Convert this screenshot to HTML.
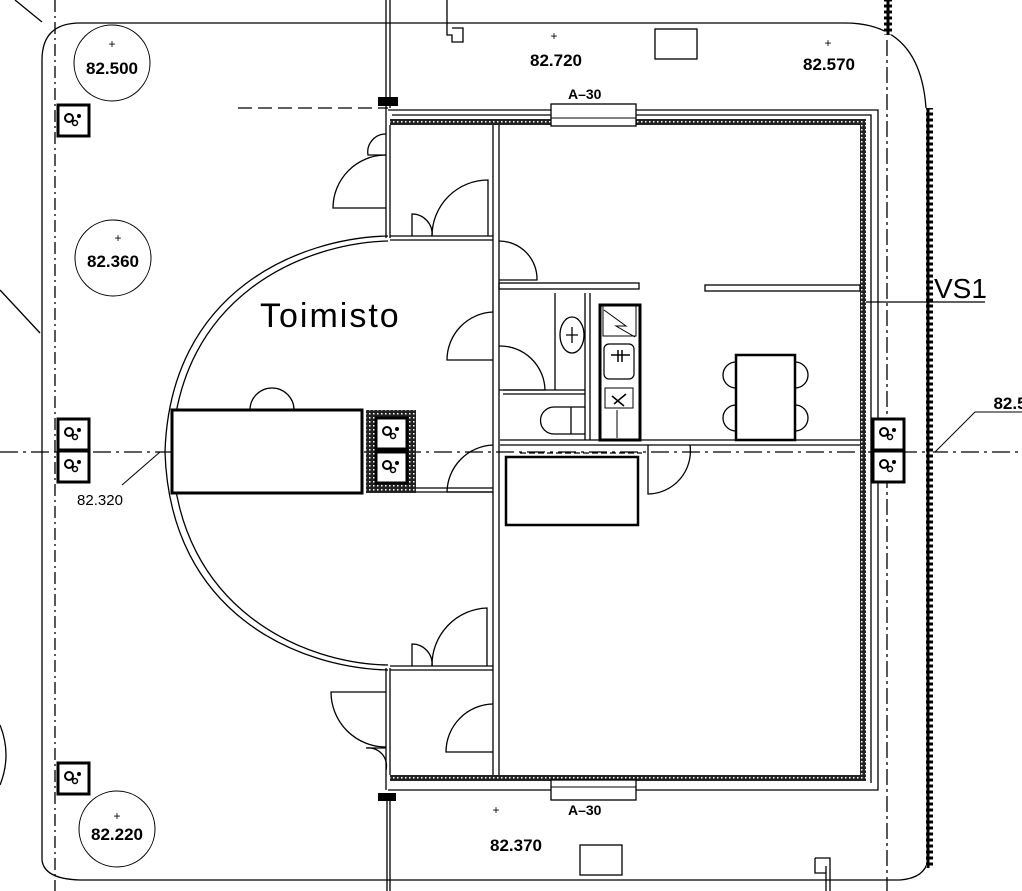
<!DOCTYPE html>
<html><head><meta charset="utf-8"><style>
html,body{margin:0;padding:0;background:#fff;}
svg{display:block;}
text{font-family:"Liberation Sans",sans-serif;fill:#000;}
</style></head><body>
<svg width="1022" height="891" viewBox="0 0 1022 891" xmlns="http://www.w3.org/2000/svg">
<defs>
<pattern id="hat" width="4" height="4" patternUnits="userSpaceOnUse"><rect width="4" height="4" fill="#222"/><rect x="1" y="1" width="1.5" height="1.5" fill="#fff"/></pattern>
<pattern id="lad" width="8" height="6" patternUnits="userSpaceOnUse"><rect width="8" height="6" fill="#000"/><rect x="1.5" y="1.5" width="5" height="3" fill="#fff"/></pattern>
<g id="sock"><rect x="0" y="0" width="31" height="31" fill="#fff" stroke="#000" stroke-width="3"/><circle cx="11" cy="13" r="4" fill="none" stroke="#000" stroke-width="2"/><circle cx="17" cy="18" r="2.5" fill="none" stroke="#000" stroke-width="1.5"/><circle cx="21" cy="11" r="2" fill="#000"/></g>
</defs>
<g fill="none" stroke="#000" stroke-width="1.3">
<!-- diagonals -->
<line x1="15" y1="0" x2="42" y2="22"/><line x1="0" y1="290" x2="40" y2="333"/>
<!-- outer boundary -->
<path d="M42 860 V60 Q42 23 80 23 H845 Q920 23 926 108"/>
<path d="M42 860 Q44 879 80 880 H900 Q925 878 928 860"/>
<line x1="55" y1="0" x2="55" y2="891" stroke-dasharray="12 4 2 4"/>
<line x1="887" y1="40" x2="887" y2="891" stroke-dasharray="16 4 3 4"/>
<line x1="0" y1="452" x2="1022" y2="452" stroke-dasharray="18 5 3 5"/>
<!-- top verticals -->
<line x1="386" y1="0" x2="386" y2="108"/><line x1="390" y1="0" x2="390" y2="108"/>
<path d="M447 0 V35 H452 V42 H463 V28 H452"/>
<rect x="655" y="29" width="42" height="30"/>
<line x1="238" y1="108" x2="388" y2="108" stroke-dasharray="14 6"/>
<!-- bottom verticals -->
<line x1="387" y1="795" x2="387" y2="891"/><line x1="390" y1="795" x2="390" y2="891"/>
<rect x="580" y="845" width="42" height="30"/>
<path d="M815 858 H830 V891 M826 866 V891 M815 858 V873 H826"/>
<path d="M0 725 Q12 755 0 785"/>
</g>
<!-- right ladder strip -->
<rect x="926" y="108" width="7" height="760" fill="url(#lad)"/>
<rect x="884" y="0" width="8" height="35" fill="url(#lad)"/>
<!-- building walls -->
<g fill="none" stroke="#000" stroke-width="1.3">
<path d="M388 110 H878 V790 H388"/>
<path d="M392 115 H871 V783"/>
</g>
<rect x="390" y="119" width="476" height="6" fill="url(#hat)"/>
<rect x="860" y="119" width="6" height="662" fill="url(#hat)"/>
<rect x="390" y="775" width="476" height="6" fill="url(#hat)"/>
<!-- windows A-30 -->
<rect x="551" y="104" width="85" height="22" fill="#fff" stroke="#000" stroke-width="1.3"/>
<line x1="551" y1="118" x2="636" y2="118" stroke="#000"/>
<rect x="551" y="780" width="85" height="20" fill="#fff" stroke="#000" stroke-width="1.3"/>
<line x1="551" y1="787" x2="636" y2="787" stroke="#000"/>
<text x="568" y="99" font-size="14" font-weight="bold">A–30</text>
<text x="568" y="815" font-size="14" font-weight="bold">A–30</text>
<rect x="378" y="97" width="20" height="9" fill="#000"/>
<rect x="378" y="793" width="18" height="8" fill="#000"/>
<g fill="none" stroke="#000" stroke-width="1.3">
<!-- annex walls -->
<line x1="386" y1="108" x2="386" y2="238"/><line x1="390" y1="125" x2="390" y2="238"/>
<line x1="386" y1="668" x2="386" y2="790"/><line x1="390" y1="668" x2="390" y2="775"/>
<line x1="390" y1="236" x2="493" y2="236"/><line x1="390" y1="240" x2="493" y2="240"/>
<line x1="390" y1="666" x2="493" y2="666"/><line x1="390" y1="670" x2="493" y2="670"/>
<!-- main partition -->
<line x1="493" y1="125" x2="493" y2="775"/><line x1="499" y1="125" x2="499" y2="775"/>
<!-- arc walls -->
<path d="M388 236 C300 238 170 290 165 452 C170 615 300 668 388 670"/>
<path d="M388 241 C305 243 177 295 172 452 C177 610 305 664 388 665"/>
<!-- doors upper annex -->
<path d="M386 208 H333 A53 53 0 0 1 386 155"/>
<path d="M386 155 H368 A18 18 0 0 1 386 134"/>
<path d="M488 236 V180 A56 56 0 0 0 432 236"/>
<path d="M412 236 V214 A20 20 0 0 1 432 236"/>
<!-- doors lower annex -->
<path d="M386 692 H331 A55 55 0 0 0 386 747"/>
<path d="M386 748 H366 A18 18 0 0 1 386 770"/>
<path d="M487 666 V608 A57 57 0 0 0 432 666"/>
<path d="M412 666 V644 A20 20 0 0 1 432 666"/>
<path d="M493 704 A48 48 0 0 0 446 752 H493"/>
<!-- doors on partition -->
<path d="M493 312 A48 48 0 0 0 447 360 H493"/>
<path d="M499 241 A38 38 0 0 1 537 280 H499"/>
<path d="M493 445 A48 48 0 0 0 447 492 H493"/>
<path d="M499 346 A45 45 0 0 1 545 390 H499"/>
<line x1="416" y1="492" x2="493" y2="492"/><line x1="416" y1="488" x2="493" y2="488"/>
<!-- horizontal partition upper -->
<rect x="499" y="283" width="140" height="6"/>
<rect x="705" y="285" width="155" height="6"/>
<line x1="866" y1="302" x2="985" y2="302"/>
<!-- bath -->
<line x1="555" y1="293" x2="555" y2="390"/>
<line x1="585" y1="293" x2="585" y2="440"/><line x1="590" y1="293" x2="590" y2="440"/>
<line x1="503" y1="390" x2="585" y2="390"/><line x1="503" y1="394" x2="585" y2="394"/>
<ellipse cx="572" cy="335" rx="12" ry="18"/>
<path d="M566 335 H578 M572 327 V343"/>
<path d="M585 407 H554 A13 13 0 0 0 554 434 H585 M571 407 V434"/>
<line x1="500" y1="440" x2="860" y2="440"/><line x1="500" y1="445" x2="860" y2="445"/>
<!-- door lower partition -->
<path d="M648 445 V494 A43 43 0 0 0 690 445"/>
<line x1="520" y1="453" x2="642" y2="453" stroke-dasharray="6 3"/>
<!-- chair semicircle -->
<path d="M250 410 A22 22 0 0 1 294 410"/>
<!-- table chairs -->
<path d="M736 362 A13 13 0 0 0 736 388 M736 405 A13 13 0 0 0 736 431 M795 362 A13 13 0 0 1 795 388 M795 405 A13 13 0 0 1 795 431"/>
<!-- kitchen -->
<rect x="603" y="306" width="33" height="30" stroke-width="1"/>
<path d="M604 310 L626 326 L616 326 L635 337" stroke-width="1"/>
<rect x="604" y="344" width="30" height="35" rx="5" stroke-width="1.2"/>
<path d="M611 355 H630 M618 350 V362 M622 350 V362" stroke-width="1.5"/>
<rect x="605" y="388" width="28" height="20" stroke-width="1"/>
<path d="M614 404 L626 394 M612 396 L624 406" stroke-width="1.5"/>
<line x1="617" y1="410" x2="617" y2="438" stroke-width="1"/>
</g>
<!-- thick rects -->
<rect x="172" y="410" width="190" height="83" fill="#fff" stroke="#000" stroke-width="3"/>
<rect x="600" y="305" width="40" height="135" fill="none" stroke="#000" stroke-width="3"/>
<rect x="736" y="355" width="59" height="85" fill="#fff" stroke="#000" stroke-width="2.5"/>
<rect x="506" y="457" width="132" height="68" fill="none" stroke="#000" stroke-width="2.5"/>
<!-- hatched socket block -->
<rect x="366" y="410" width="50" height="83" fill="url(#hat)"/>
<use href="#sock" x="376" y="418"/><use href="#sock" x="376" y="452"/>
<!-- sockets -->
<use href="#sock" x="58" y="105"/><use href="#sock" x="58" y="419"/><use href="#sock" x="58" y="451"/><use href="#sock" x="58" y="763"/>
<use href="#sock" x="873" y="419"/><use href="#sock" x="873" y="451"/>
<!-- circles with levels -->
<g fill="none" stroke="#000" stroke-width="1">
<circle cx="112" cy="63" r="38"/><circle cx="113" cy="258" r="38"/><circle cx="117" cy="829" r="38"/>
<line x1="160" y1="452" x2="122" y2="485"/>
<line x1="935" y1="452" x2="975" y2="412"/><line x1="975" y1="412" x2="1022" y2="412"/>
</g>
<g font-size="17" font-weight="bold" text-anchor="middle">
<text x="112" y="74">82.500</text><text x="113" y="267">82.360</text><text x="117" y="840">82.220</text>
<text x="556" y="66">82.720</text><text x="829" y="70">82.570</text><text x="516" y="851">82.370</text>
<text x="1010" y="409">82.5</text>
</g>
<g font-size="12" text-anchor="middle"><text x="112" y="48">+</text><text x="118" y="242">+</text><text x="117" y="820">+</text><text x="554" y="40">+</text><text x="828" y="47">+</text><text x="496" y="814">+</text></g>
<text x="100" y="505" font-size="15" text-anchor="middle">82.320</text>
<text x="260" y="327" font-size="34" letter-spacing="2">Toimisto</text>
<text x="934" y="298" font-size="28">VS1</text>
</svg>
</body></html>
